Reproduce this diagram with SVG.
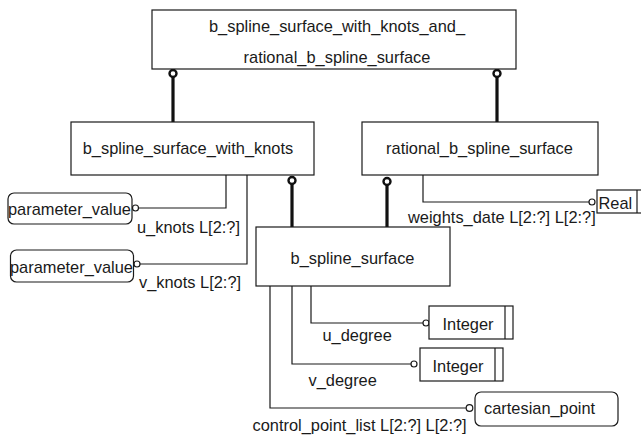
<svg xmlns="http://www.w3.org/2000/svg" width="641" height="435" viewBox="0 0 641 435">
  <style>
    .box { fill: #fff; stroke: #1a1a1a; stroke-width: 1.2; }
    .lbl { font-family: "Liberation Sans", Arial, sans-serif; font-size: 16.4px; fill: #1a1a1a; }
    .mid { text-anchor: middle; }
    .thin { fill: none; stroke: #1a1a1a; stroke-width: 1.2; }
    .thick { fill: none; stroke: #111; stroke-width: 3.2; }
    .ring { fill: #fff; stroke: #111; stroke-width: 2.4; }
    .dot { fill: #fff; stroke: #1a1a1a; stroke-width: 1.2; }
  </style>
  <rect width="641" height="435" fill="#fff"/>

  <!-- connectors -->
  <g id="connectors">
    <!-- subtype links (thick, ring at the supertype end) -->
    <line class="thick" x1="173" y1="77" x2="173" y2="122"/>
    <circle class="ring" cx="173" cy="73.5" r="3.5"/>
    <line class="thick" x1="497" y1="77" x2="497" y2="122"/>
    <circle class="ring" cx="497" cy="73.5" r="3.5"/>
    <line class="thick" x1="292" y1="184" x2="292" y2="227"/>
    <circle class="ring" cx="292" cy="180.5" r="3.5"/>
    <line class="thick" x1="387" y1="185" x2="387" y2="227"/>
    <circle class="ring" cx="387" cy="181.5" r="3.5"/>

    <!-- attribute links (thin, small circle at the target) -->
    <polyline class="thin" points="226,175 226,208 138.5,208"/>
    <circle class="dot" cx="135.5" cy="208" r="3"/>
    <polyline class="thin" points="247,175 247,264 140,264"/>
    <circle class="dot" cx="137" cy="264" r="3"/>
    <polyline class="thin" points="423,175 423,202 589,202"/>
    <circle class="dot" cx="592" cy="202" r="3"/>
    <polyline class="thin" points="311,286 311,323 423,323"/>
    <circle class="dot" cx="426" cy="323" r="3"/>
    <polyline class="thin" points="292,286 292,364 411,364"/>
    <circle class="dot" cx="414" cy="364" r="3"/>
    <polyline class="thin" points="270,286 270,408 466,408"/>
    <circle class="dot" cx="469.5" cy="408" r="3.3"/>
  </g>

  <!-- entities -->
  <g id="b_spline_surface_with_knots_and_rational_b_spline_surface">
    <rect class="box" x="152" y="10" width="364" height="59"/>
    <text class="lbl mid" x="337" y="32">b_spline_surface_with_knots_and_</text>
    <text class="lbl mid" x="337" y="62.5">rational_b_spline_surface</text>
  </g>
  <g id="b_spline_surface_with_knots">
    <rect class="box" x="71" y="122" width="243" height="53"/>
    <text class="lbl mid" x="188" y="154">b_spline_surface_with_knots</text>
  </g>
  <g id="rational_b_spline_surface">
    <rect class="box" x="362" y="122" width="236" height="53"/>
    <text class="lbl mid" x="479.5" y="154">rational_b_spline_surface</text>
  </g>
  <g id="b_spline_surface">
    <rect class="box" x="256" y="227" width="194" height="59"/>
    <text class="lbl mid" x="352.5" y="264">b_spline_surface</text>
  </g>

  <!-- attribute targets -->
  <g id="parameter_value_u">
    <rect class="box" x="8" y="193" width="124" height="31" rx="6"/>
    <text class="lbl mid" x="69.5" y="215">parameter_value</text>
  </g>
  <g id="parameter_value_v">
    <rect class="box" x="10.5" y="250" width="123" height="32" rx="6"/>
    <text class="lbl mid" x="71.5" y="273">parameter_value</text>
  </g>
  <g id="real">
    <rect class="box" x="597" y="190" width="50" height="23"/>
    <line class="thin" x1="637" y1="190" x2="637" y2="213"/>
    <text class="lbl" x="598.5" y="209">Real</text>
  </g>
  <g id="integer_u">
    <rect class="box" x="429" y="306" width="84" height="33"/>
    <line class="thin" x1="505" y1="306" x2="505" y2="339"/>
    <text class="lbl mid" x="468" y="330">Integer</text>
  </g>
  <g id="integer_v">
    <rect class="box" x="420" y="348" width="83" height="33"/>
    <line class="thin" x1="495" y1="348" x2="495" y2="381"/>
    <text class="lbl mid" x="458" y="372">Integer</text>
  </g>
  <g id="cartesian_point">
    <rect class="box" x="475" y="392" width="143" height="34" rx="6"/>
    <text class="lbl" x="484" y="414">cartesian_point</text>
  </g>

  <!-- attribute names -->
  <g id="attribute_labels">
    <text class="lbl" x="137" y="232.5">u_knots L[2:?]</text>
    <text class="lbl" x="139" y="287.5">v_knots L[2:?]</text>
    <text class="lbl" x="408" y="222.5">weights_date L[2:?] L[2:?]</text>
    <text class="lbl" x="322.5" y="341">u_degree</text>
    <text class="lbl" x="308.5" y="386">v_degree</text>
    <text class="lbl" x="252.5" y="431">control_point_list L[2:?] L[2:?]</text>
  </g>
</svg>
